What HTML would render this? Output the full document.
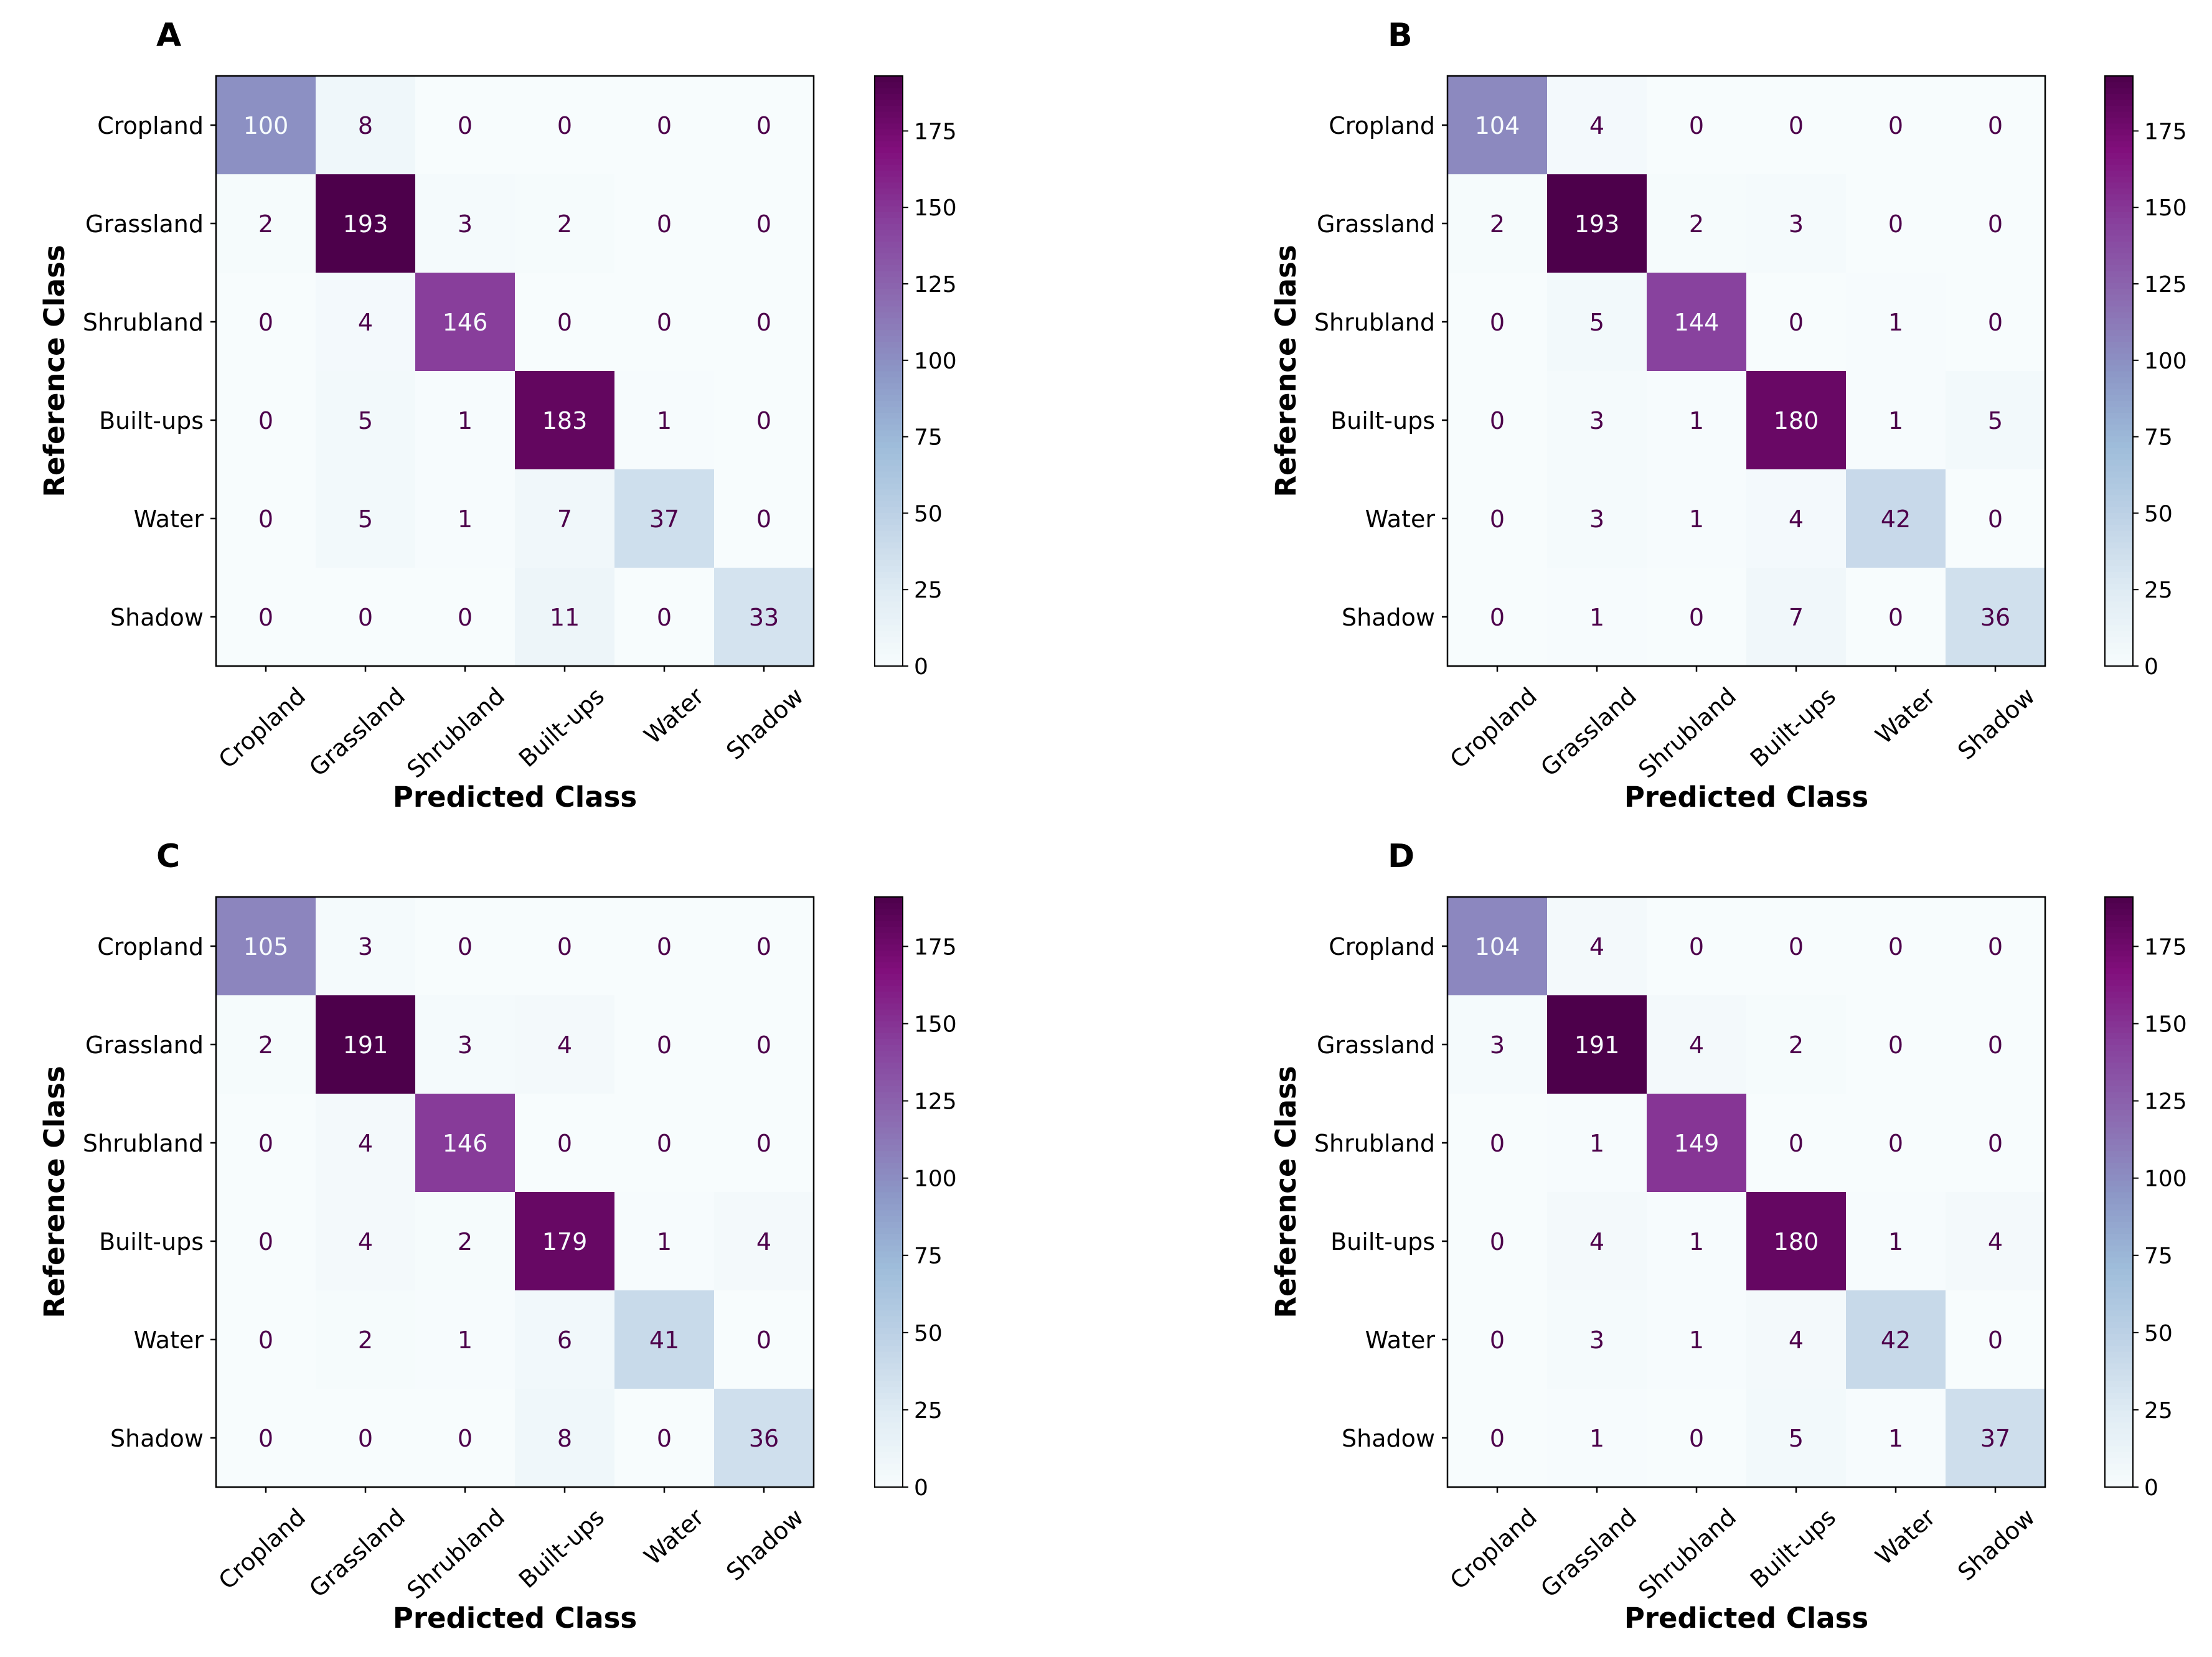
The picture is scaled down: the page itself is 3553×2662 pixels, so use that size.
<!DOCTYPE html>
<html><head><meta charset="utf-8">
<style>
html,body{margin:0;padding:0;background:#fff;}
svg{display:block;font-family:"DejaVu Sans","Liberation Sans",sans-serif;}
</style></head>
<body>
<svg id="fig" width="3553" height="2662" viewBox="0 0 3553 2662" xmlns="http://www.w3.org/2000/svg"></svg>
<script>
const classes = ["Cropland","Grassland","Shrubland","Built-ups","Water","Shadow"];
const panelLetters = ["A","B","C","D"];
const matrixA = [[100,8,0,0,0,0],[2,193,3,2,0,0],[0,4,146,0,0,0],[0,5,1,183,1,0],[0,5,1,7,37,0],[0,0,0,11,0,33]];
const matrixB = [[104,4,0,0,0,0],[2,193,2,3,0,0],[0,5,144,0,1,0],[0,3,1,180,1,5],[0,3,1,4,42,0],[0,1,0,7,0,36]];
const matrixC = [[105,3,0,0,0,0],[2,191,3,4,0,0],[0,4,146,0,0,0],[0,4,2,179,1,4],[0,2,1,6,41,0],[0,0,0,8,0,36]];
const matrixD = [[104,4,0,0,0,0],[3,191,4,2,0,0],[0,1,149,0,0,0],[0,4,1,180,1,4],[0,3,1,4,42,0],[0,1,0,5,1,37]];
const colorbarTicks = [0,25,50,75,100,125,150,175];

const NS="http://www.w3.org/2000/svg";
const svg=document.getElementById('fig');
const stops=[[0,[247,252,253]],[0.125,[224,236,244]],[0.25,[191,211,230]],[0.375,[158,188,218]],[0.5,[140,150,198]],[0.625,[140,107,177]],[0.75,[136,65,157]],[0.875,[129,15,124]],[1,[77,0,75]]];
function cmap(t){t=Math.max(0,Math.min(1,t));for(let i=1;i<stops.length;i++){if(t<=stops[i][0]){const a=stops[i-1],b=stops[i];const f=(t-a[0])/(b[0]-a[0]);const c=a[1].map((v,k)=>Math.round(v+(b[1][k]-v)*f));return `rgb(${c[0]},${c[1]},${c[2]})`;}}return 'rgb(77,0,75)';}
function el(tag,attrs,parent){const e=document.createElementNS(NS,tag);for(const k in attrs)e.setAttribute(k,attrs[k]);(parent||svg).appendChild(e);return e;}

const panels=[
 {m:matrixA,x0:347,y0:122,cbx:1405},
 {m:matrixB,x0:2325,y0:122,cbx:3381},
 {m:matrixC,x0:347,y0:1441,cbx:1405},
 {m:matrixD,x0:2325,y0:1441,cbx:3381}];
const W=960,H=948,CBW=45;

panels.forEach((p,pi)=>{
 const g=el('g',{});
 
 
 const vmax=Math.max(...p.m.flat());
 const n=classes.length, cw=W/n, ch=H/n;
 const xs=j=>p.x0+j*cw, ys=i=>p.y0+i*ch;
 const t=el('text',{x:p.x0-96,y:p.y0-48,'font-size':52,'font-weight':'bold',fill:'#000','text-anchor':'start'},g);
 t.textContent=panelLetters[pi];
 
 
 p.m.forEach((row,i)=>row.forEach((v,j)=>{
  const r=el('rect',{x:xs(j),y:ys(i),width:cw+0.5,height:ch+0.5,fill:cmap(v/vmax)},g);
  
  
  const tx=el('text',{x:xs(j)+cw/2,y:ys(i)+ch/2+14,'font-size':38,'text-anchor':'middle',fill:(v/vmax>0.45?'#f7fcfd':'#4d004b')},g);
  tx.textContent=v;
  
  
 }));
 el('rect',{x:p.x0,y:p.y0,width:W,height:H,fill:'none',stroke:'#000','stroke-width':2.5},g);
 classes.forEach((c,k)=>{
  const yc=ys(k)+ch/2, xc=xs(k)+cw/2;
  el('line',{x1:p.x0-9,x2:p.x0,y1:yc,y2:yc,stroke:'#000','stroke-width':2.5},g);
  const yl=el('text',{x:p.x0-20,y:yc+14,'font-size':38,'text-anchor':'end',fill:'#000'},g);
  yl.textContent=c;
  
  
  el('line',{x1:xc,x2:xc,y1:p.y0+H,y2:p.y0+H+9,stroke:'#000','stroke-width':2.5},g);
  const ax=xc+66, ay=p.y0+H+52;
  const xl=el('text',{x:ax,y:ay,'font-size':38,'text-anchor':'end',fill:'#000',transform:`rotate(-42 ${ax} ${ay})`},g);
  xl.textContent=c;
  
  
 });
 const xt=el('text',{x:p.x0+W/2,y:p.y0+H+226,'font-size':45,'font-weight':'bold','text-anchor':'middle',fill:'#000'},g);
 xt.textContent='Predicted Class';
 
 
 const yx=p.x0-244, yy=p.y0+H/2;
 const yt=el('text',{x:yx,y:yy,'font-size':45,'font-weight':'bold','text-anchor':'middle',fill:'#000',transform:`rotate(-90 ${yx} ${yy})`},g);
 yt.textContent='Reference Class';
 
 
 const cb=el('g',{},g);
 
 
 const steps=100;
 for(let s=0;s<steps;s++){
  el('rect',{x:p.cbx,y:p.y0+H-(s+1)*H/steps,width:CBW,height:H/steps+0.6,fill:cmap((s+0.5)/steps)},cb);
 }
 el('rect',{x:p.cbx,y:p.y0,width:CBW,height:H,fill:'none',stroke:'#000','stroke-width':2},cb);
 colorbarTicks.forEach(v=>{
  const y=p.y0+H-v/vmax*H;
  el('line',{x1:p.cbx+CBW,x2:p.cbx+CBW+9,y1:y,y2:y,stroke:'#000','stroke-width':2},cb);
  const tl=el('text',{x:p.cbx+CBW+18,y:y+13,'font-size':36,fill:'#000'},cb);
  tl.textContent=v;
  
  
 });
});
</script>
</body></html>
